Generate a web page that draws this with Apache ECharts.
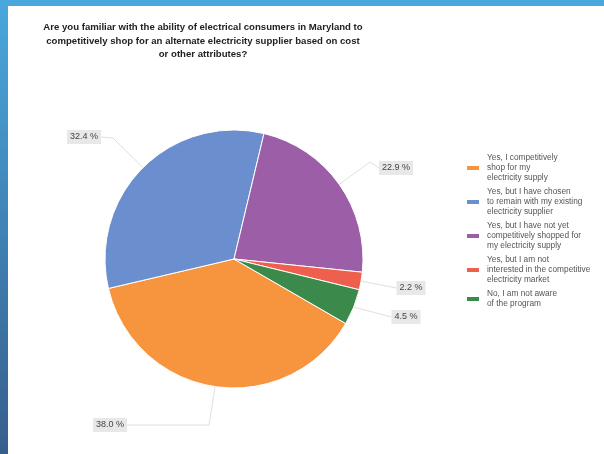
<!DOCTYPE html>
<html>
<head>
<meta charset="utf-8">
<script src="https://cdn.jsdelivr.net/npm/echarts@6/dist/echarts.min.js"></script>
<style>
  html, body { margin: 0; padding: 0; background: #ffffff; }
  #chart { width: 604px; height: 454px; }
</style>
</head>
<body>
<div id="chart"></div>
<script>
// Survey question shown as the chart heading
const titleText = 'Are you familiar with the ability of electrical consumers in Maryland to\ncompetitively shop for an alternate electricity supplier based on cost\nor other attributes?';

// Answer options (line breaks used by the legend)
const categories = [
  'Yes, I competitively\nshop for my\nelectricity supply',
  'Yes, but I have chosen\nto remain with my existing\nelectricity supplier',
  'Yes, but I have not yet\ncompetitively shopped for\nmy electricity supply',
  'Yes, but I am not\ninterested in the competitive\nelectricity market',
  'No, I am not aware\nof the program'
];

// Share of respondents, percent
const shares = [38.0, 32.4, 22.9, 2.2, 4.5];

const sliceColors = ['#f6953e', '#6b8ecf', '#9c5ea7', '#ee5f4d', '#3b8a4b'];

// Where each percentage tag sits, and the elbow of its leader line
const labelSpots = [
  { x: 110, y: 425, bend: [209, 425], facing: 'right' },
  { x: 84,  y: 137, bend: [113, 138], facing: 'right' },
  { x: 396, y: 168, bend: [370, 162], facing: 'left' },
  { x: 411, y: 288, bend: null,       facing: 'left' },
  { x: 406, y: 317, bend: null,       facing: 'left' }
];

const chart = echarts.init(document.getElementById('chart'), null, { renderer: 'canvas' });

chart.setOption({
  backgroundColor: '#ffffff',
  animation: false,
  color: sliceColors,
  graphic: [
    {
      type: 'rect',
      shape: { x: 0, y: 0, width: 604, height: 6 },
      style: { fill: '#4aa7dc' },
      silent: true
    },
    {
      type: 'rect',
      shape: { x: 0, y: 0, width: 8, height: 454 },
      style: {
        fill: new echarts.graphic.LinearGradient(0, 0, 0, 1, [
          { offset: 0, color: '#4aa8dc' },
          { offset: 1, color: '#365e8d' }
        ])
      },
      silent: true
    }
  ],
  title: {
    text: titleText,
    left: 203,
    top: 21,
    padding: 0,
    textAlign: 'center',
    textStyle: {
      fontFamily: 'Liberation Sans, Arial, sans-serif',
      fontSize: 9.6,
      fontWeight: 'bold',
      color: '#222222',
      lineHeight: 13.5
    }
  },
  legend: {
    orient: 'vertical',
    left: 465,
    top: 153,
    padding: 0,
    icon: 'rect',
    itemWidth: 14,
    itemHeight: 6,
    itemGap: 4,
    data: categories,
    textStyle: {
      fontFamily: 'Liberation Sans, Arial, sans-serif',
      fontSize: 8.3,
      lineHeight: 10,
      color: '#555555',
      padding: [0, 0, 0, 2]
    }
  },
  series: [
    {
      type: 'pie',
      center: [234, 259],
      radius: [0, 129],
      startAngle: -30,
      clockwise: true,
      avoidLabelOverlap: false,
      itemStyle: { borderColor: '#ffffff', borderWidth: 1 },
      label: {
        show: true,
        position: 'outside',
        formatter: function (p) { return p.value.toFixed(1) + ' %'; },
        fontFamily: 'Liberation Sans, Arial, sans-serif',
        fontSize: 9,
        color: '#444444',
        backgroundColor: '#e8e8e8',
        padding: [3, 3, 2, 3]
      },
      labelLine: {
        show: true,
        length: 20,
        length2: 10,
        lineStyle: { color: '#e0e0e0', width: 1 }
      },
      labelLayout: function (p) {
        const s = labelSpots[p.dataIndex];
        const w = p.labelRect.width;
        const edgeX = s.facing === 'right' ? s.x + w / 2 : s.x - w / 2;
        const start = p.labelLinePoints ? p.labelLinePoints[0] : [edgeX, s.y];
        const elbow = s.bend ? s.bend : [(start[0] + edgeX) / 2, (start[1] + s.y) / 2];
        return {
          x: s.x,
          y: s.y,
          align: 'center',
          verticalAlign: 'middle',
          labelLinePoints: [start, elbow, [edgeX, s.y]]
        };
      },
      emphasis: { disabled: true },
      data: categories.map(function (name, i) {
        return { name: name, value: shares[i] };
      })
    }
  ]
});
</script>
</body>
</html>
